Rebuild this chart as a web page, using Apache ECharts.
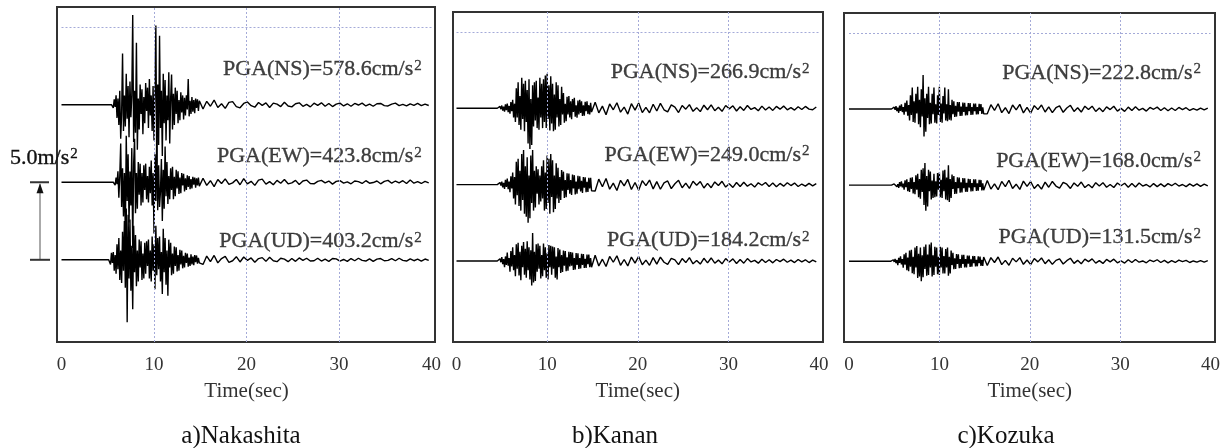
<!DOCTYPE html>
<html><head><meta charset="utf-8">
<script src="https://cdn.jsdelivr.net/npm/echarts@6/dist/echarts.min.js"></script>
<style>html,body{margin:0;padding:0;background:#fff}#c{width:1228px;height:448px}</style>
</head><body><div id="c"></div>
<script>
// ---------------- data ----------------
const stations = ['a)Nakashita', 'b)Kanan', 'c)Kozuka'];
const components = ['NS', 'EW', 'UD'];
const timeTicks = [0, 10, 20, 30, 40];
const scaleBar = 500;            // cm/s^2  (= 5.0 m/s^2), also spacing between traces
const scaleLabel = '5.0m/s';
const pgaNakashita = [578.6, 423.8, 403.2];
const pgaKanan = [266.9, 249.0, 184.2];
const pgaKozuka = [222.8, 168.0, 131.5];
const strongDt = 0.1, codaDt = 0.4;          // seconds between read samples
const onsetNakashita = [5.5, 5.7, 5.2];
const onsetKanan = [4.6, 4.6, 4.6];
const onsetKozuka = [4.8, 4.8, 4.7];

// accelerations (cm/s^2) read from the records
const nakashitaNS = [8,-20,35,-15,60,-85,40,-130,90,-220,
 -60,330,-170,60,-140,200,-90,120,-210,150,
 -80,60,579,-240,90,-180,400,-290,40,-160,
 130,-60,100,-190,50,-120,140,-40,110,-150,
 165,-70,60,-170,120,-230,80,510,-380,130,
 -260,445,-150,90,-330,200,-120,160,-230,60,
 -100,210,-250,40,195,-160,70,-130,110,-60,
 90,-120,30,-100,80,-50,60,-95,45,-70,
 60,-30,165,-75,25,-60,50,-45,30,-55,
 40,-20,35,-40,25];
const nakashitaNSCoda = [-28,22,-10,30,-18,6,-24,15,20,-12,
 -20,8,18,-6,-16,14,-4,12,-18,10,
 4,-12,16,-8,-14,6,12,-10,2,-14,
 10,-4,12,-10,8,-12,4,10,-8,6,
 -10,8,-2,10,-8,4,-10,6,8,-6,
 -8,4,10,-6,2,-8,6,-4,8,-6,
 4,-5];
const nakashitaEW = [6,-18,30,-12,70,-100,40,250,-160,90,
 -220,60,-330,300,-120,180,-260,70,-150,220,
 -424,120,280,-200,60,-170,130,-80,120,-150,
 60,-130,110,-50,120,-110,40,-130,100,-70,
 140,-150,60,-330,180,-120,300,-180,110,-160,
 -60,150,-250,80,-170,230,-90,130,-140,40,
 -110,90,-50,100,-110,35,-90,80,-40,70,
 -75,30,-70,60,-20,55,-60,25,-50,45,
 -30,40,-45,20,-40,35,-15,30,-35,25,
 -20,30,-25];
const nakashitaEWCoda = [26,-20,10,-28,18,-8,22,-14,-4,18,
 -16,24,-10,6,-20,14,20,-12,4,-16,
 12,-6,18,-10,-4,12,-14,8,14,-8,
 -10,6,12,-4,8,-12,6,10,-6,2,
 -10,8,4,-8,10,-6,-2,8,-10,6,
 12,-6,8,-4,10,-8,14,-6,4,-8,
 6,-4];
const nakashitaUD = [12,-30,45,-20,50,-70,30,-90,100,-60,
 140,-130,60,-150,180,-70,250,-180,330,-403,
 290,-120,260,-200,90,-318,220,-80,160,-170,
 60,-140,130,-50,120,-130,40,-120,110,-90,
 120,-40,130,-120,60,-140,150,-70,100,-190,
 220,-100,140,-60,150,-140,50,-220,200,-80,
 140,-160,60,-232,130,-50,110,-100,40,-90,
 85,-40,80,-75,30,-70,65,-30,60,-55,
 25,-50,45,-20,40,-45,15,-40,35,-30,
 20,-35,30,-15,28,-25,12,-20];
const nakashitaUDCoda = [-30,24,-12,28,-20,8,22,-16,-6,20,
 -14,18,-4,12,-16,8,14,-10,16,-6,
 -12,10,4,-12,8,-10,12,-4,10,-8,
 -6,10,-8,4,-10,8,6,-8,2,-10,
 8,-6,10,-4,-8,6,-10,4,8,-6,
 -4,8,-6,10,-4,-8,6,-6,4,-8,
 5,-4];

const kananNS = [4,-8,12,-6,18,-15,10,-22,25,-12,
 30,-25,15,-35,40,-20,55,-60,30,-90,
 130,-60,170,-110,80,-140,200,-70,160,-150,
 180,-90,120,-230,190,-267,60,-240,150,-120,
 170,-80,180,-130,70,-140,200,-60,160,-130,
 190,-90,215,-130,226,-70,150,-145,210,-100,
 160,-150,90,-140,170,-60,150,-120,60,-110,
 140,-40,100,-95,30,-85,75,-40,80,-60,
 45,-72,60,-25,68,-55,20,-62,50,-40,
 55,-30,45,-50,20,-48,42,-20,45,-38,
 20,-40,36,-25];
const kananNSCoda = [40,-30,14,-42,28,-10,36,-26,8,-38,
 30,-12,34,-28,6,-30,26,-18,32,-10,
 -24,22,8,-28,18,-6,24,-20,4,-22,
 20,-10,22,-16,6,-20,18,-4,16,-18,
 10,-14,18,-8,4,-16,14,-12,8,-14,
 12,-6,14,-10,4,-12,10,-8,12,-6,
 -10,8];
const kananEW = [4,-8,14,-6,20,-18,12,-28,32,-15,
 40,-30,20,-50,55,-25,80,-90,50,-130,
 150,-70,170,-140,90,-170,200,-100,226,-190,
 120,-210,180,-249,60,-220,190,-120,226,-170,
 90,-150,120,-60,100,-130,60,-110,120,-90,
 160,-170,80,-160,190,-120,170,-190,200,-80,
 160,-180,60,-160,140,-90,110,-120,50,-100,
 95,-40,85,-88,30,-82,75,-35,72,-60,
 30,-68,66,-25,62,-64,20,-60,58,-30,
 55,-45,25,-54,50,-20,48,-50,18,-48,
 45,-25,44,-40];
const kananEWCoda = [-42,36,-14,40,-30,10,-38,28,-8,34,
 -32,14,-36,26,-6,30,-28,20,-30,12,
 24,-26,6,28,-20,10,-24,22,-4,20,
 -22,8,-20,18,-6,22,-16,6,-18,14,
 -12,16,-10,6,-16,12,-4,14,-12,10,
 -14,8,-10,12,-6,10,-12,4,-10,8,
 -8,6];
const kananUD = [6,-10,15,-8,25,-20,12,-40,30,-25,
 55,-30,20,-70,65,-35,90,-60,40,-100,
 110,-50,120,-95,60,-125,100,-40,125,-90,
 80,-110,130,-60,90,-120,70,-160,184,-140,
 60,-130,110,-70,115,-50,100,-115,40,-100,
 115,-60,90,-110,50,-120,105,-40,100,-90,
 95,-50,90,-110,30,-120,85,-40,75,-78,
 40,-72,68,-30,65,-66,25,-64,60,-35,
 58,-30,56,-58,20,-56,52,-25,50,-52,
 20,-48,47,-25,45,-46,15,-45,42,-20,
 42,-40,20,-41];
const kananUDCoda = [38,-32,12,-36,30,-8,34,-28,10,-32,
 26,-14,30,-24,6,-28,22,-20,26,-8,
 -22,18,8,-24,16,-10,22,-18,4,-20,
 18,-12,20,-14,6,-18,16,-6,14,-16,
 10,-14,16,-6,4,-14,12,-10,8,-12,
 10,-4,12,-8,6,-10,10,-6,8,-10,
 6,-6];

const kozukaNS = [4,-8,12,-5,18,-14,8,-25,22,-12,
 30,-20,12,-38,40,-18,55,-45,25,-75,
 90,-40,140,-85,50,-90,100,-30,145,-100,
 60,-120,130,-50,223,-180,70,-150,100,-60,
 145,-100,40,-95,100,-35,140,-90,30,-95,
 90,-40,145,-85,35,-90,85,-30,140,-75,
 30,-80,130,-70,25,-75,60,-35,50,-52,
 20,-50,46,-18,45,-46,15,-45,42,-20,
 40,-42,14,-41,38,-15,38,-39,12,-38,
 36,-15,35,-36,12,-35,33,-12,32,-33,
 10,-31];
const kozukaNSCoda = [-32,28,-10,34,-24,8,-30,26,-6,30,
 -26,10,-28,22,-4,26,-20,14,-24,8,
 20,-22,6,24,-16,8,-20,18,-4,18,
 -16,6,-18,14,-4,18,-14,4,-16,12,
 -10,14,-8,4,-14,10,-2,12,-10,8,
 -12,6,-10,10,-4,8,-10,2,-8,6,
 -6,5];
const kozukaEW = [4,-6,8,-3,12,-10,6,-18,20,-8,
 24,-15,10,-30,32,-14,38,-40,20,-45,
 48,-25,52,-55,20,-60,65,-30,75,-80,
 40,-90,100,-45,110,-130,145,-168,60,-140,
 100,-40,90,-95,30,-85,75,-80,25,-75,
 80,-30,85,-80,35,-85,95,-40,100,-95,
 50,-100,130,-110,40,-85,70,-25,60,-58,
 20,-56,52,-20,50,-50,18,-48,46,-20,
 45,-44,15,-44,42,-16,40,-41,14,-40,
 38,-14,38,-38,12,-37,35,-12,34,-35,
 12,-33];
const kozukaEWCoda = [30,-26,8,-30,24,-10,32,-22,6,-28,
 26,-8,24,-22,4,-26,20,-14,24,-6,
 -20,18,6,-22,14,-8,20,-16,4,-18,
 16,-6,16,-14,4,-16,14,-4,12,-14,
 10,-12,14,-6,4,-12,10,-10,8,-10,
 10,-4,12,-6,4,-10,8,-6,8,-8,
 6,-5];
const kozukaUD = [4,-6,10,-4,16,-12,8,-25,22,-10,
 32,-20,14,-42,45,-22,55,-58,25,-65,
 70,-35,75,-78,30,-85,90,-40,100,-110,
 50,-100,90,-131,40,-105,95,-50,110,-95,
 45,-90,110,-40,123,-100,40,-90,95,-35,
 90,-85,30,-90,95,-40,90,-80,35,-80,
 80,-40,90,-95,30,-80,70,-25,55,-52,
 20,-50,48,-18,46,-46,15,-44,43,-18,
 42,-41,14,-40,38,-15,38,-37,12,-36,
 35,-12,34,-34,10,-33,32,-12,31,-31,
 10,-30,28];
const kozukaUDCoda = [-28,24,-8,28,-22,6,-26,20,-4,24,
 -20,8,-22,18,-4,22,-16,10,-20,6,
 16,-18,4,20,-14,6,-16,14,-2,16,
 -12,4,-14,12,-4,14,-10,2,-12,10,
 -8,12,-6,2,-10,8,-2,10,-8,6,
 -10,4,-8,8,-2,6,-8,2,-6,4,
 -5,4];

// ---------------- layout ----------------
const FONT = 'Liberation Serif';
const INK = '#111';
const panels = [
  {pga: pgaNakashita, onset: onsetNakashita, strong: [nakashitaNS, nakashitaEW, nakashitaUD], coda: [nakashitaNSCoda, nakashitaEWCoda, nakashitaUDCoda],
   frame: {left: 57, top: 7, width: 378, height: 335}, plot: {left: 61.5, width: 370}, titleX: 236, lift: [226, 165, 118]},
  {pga: pgaKanan, onset: onsetKanan, strong: [kananNS, kananEW, kananUD], coda: [kananNSCoda, kananEWCoda, kananUDCoda],
   frame: {left: 453, top: 12, width: 370, height: 330}, plot: {left: 456.5, width: 362.5}, titleX: 610, lift: [236, 194, 137]},
  {pga: pgaKozuka, onset: onsetKozuka, strong: [kozukaNS, kozukaEW, kozukaUD], coda: [kozukaNSCoda, kozukaEWCoda, kozukaUDCoda],
   frame: {left: 844, top: 13, width: 371, height: 329}, plot: {left: 849, width: 361.5}, titleX: 1001, lift: [236, 160, 158]}
];
const yMin = -530, yMax = 1630;

function buildTrace(off, t0, strong, coda) {
  // quiet baseline before the onset, then the read samples
  const pts = [[0, off], [+(t0 - strongDt).toFixed(2), off]];
  strong.forEach((v, i) => pts.push([+(t0 + i * strongDt).toFixed(2), off + v]));
  const tEnd = t0 + (strong.length - 1) * strongDt;
  coda.forEach((v, i) => pts.push([+(tEnd + (i + 1) * codaDt).toFixed(2), off + v]));
  return pts;
}

const richText = {
  t: {fontFamily: FONT, fontSize: 22, color: INK, fontWeight: 'normal', textBorderColor: INK, textBorderWidth: 0.35},
  s: {fontFamily: FONT, fontSize: 15, color: INK, fontWeight: 'normal', verticalAlign: 'top', padding: [0, 0, 0, 1],
      textBorderColor: INK, textBorderWidth: 0.3}
};

const grid = [], xAxis = [], yAxis = [], series = [], title = [];
panels.forEach((p, k) => {
  const fi = 2 * k, di = 2 * k + 1;
  grid.push({left: p.frame.left, top: p.frame.top, width: p.frame.width, height: p.frame.height,
             show: true, borderColor: '#333', borderWidth: 2, backgroundColor: 'transparent'});
  grid.push({left: p.plot.left, top: p.frame.top, width: p.plot.width, height: p.frame.height, show: false});
  xAxis.push({gridIndex: fi, type: 'value', min: 0, max: 1, show: false});
  yAxis.push({gridIndex: fi, type: 'value', min: 0, max: 1, show: false});
  xAxis.push({gridIndex: di, type: 'value', min: timeTicks[0], max: timeTicks[timeTicks.length - 1],
              interval: timeTicks[1] - timeTicks[0],
              axisLine: {show: false}, axisTick: {show: false}, splitLine: {show: false},
              axisLabel: {fontFamily: FONT, fontSize: 19, color: '#333', margin: 14},
              name: 'Time(sec)', nameLocation: 'middle', nameGap: 39,
              nameTextStyle: {fontFamily: FONT, fontSize: 21, color: '#333'}});
  yAxis.push({gridIndex: di, type: 'value', min: yMin, max: yMax, show: false});
  // dotted grid lines
  series.push({type: 'line', xAxisIndex: di, yAxisIndex: di, data: [], silent: true, z: 1,
    markLine: {silent: true, symbol: ['none', 'none'], label: {show: false}, animation: false,
      lineStyle: {color: '#a4aad8', type: [2, 2], width: 1},
      data: timeTicks.slice(1, -1).map(t => ({xAxis: t})).concat([{yAxis: 3 * scaleBar}])}});
  components.forEach((c, j) => {
    const off = (2 - j) * scaleBar;
    series.push({type: 'line', name: c, xAxisIndex: di, yAxisIndex: di, showSymbol: false, symbol: 'none',
      z: 3, animation: false, lineStyle: {color: '#000', width: 1.4},
      data: buildTrace(off, p.onset[j], p.strong[j], p.coda[j])});
  });
  series.push({type: 'scatter', xAxisIndex: di, yAxisIndex: di, symbolSize: 1, z: 4, silent: true,
    itemStyle: {color: 'rgba(0,0,0,0)'},
    data: components.map((c, j) => [39, (2 - j) * scaleBar + p.lift[j]]),
    label: {show: true, position: 'left', distance: 0,
      formatter: prm => '{t|PGA(' + components[prm.dataIndex] + ')=' + p.pga[prm.dataIndex].toFixed(1) + 'cm/s}{s|2}',
      rich: richText}});
  title.push({text: stations[k], left: p.titleX, top: 419, textAlign: 'center',
    textStyle: {fontFamily: FONT, fontSize: 25, fontWeight: 'normal', color: '#111'}});
});
title.push({text: '{t|' + scaleLabel + '}{s|2}', left: 5, top: 142,
  textStyle: {fontWeight: 'normal', rich: richText}});

const chart = echarts.init(document.getElementById('c'), null, {renderer: 'canvas'});
chart.setOption({animation: false, backgroundColor: '#fff', grid, xAxis, yAxis, series, title});

// scale bar (5.0 m/s^2) drawn on panel a's amplitude scale
const yTop = chart.convertToPixel({xAxisIndex: 1, yAxisIndex: 1}, [0, scaleBar])[1];
const yBot = chart.convertToPixel({xAxisIndex: 1, yAxisIndex: 1}, [0, 0])[1];
chart.setOption({graphic: [
  {type: 'line', shape: {x1: 40, y1: yTop + 2, x2: 40, y2: yBot}, style: {stroke: '#aaa', lineWidth: 2}},
  {type: 'line', shape: {x1: 30, y1: yTop, x2: 49, y2: yTop}, style: {stroke: '#333', lineWidth: 2}},
  {type: 'line', shape: {x1: 30, y1: yBot, x2: 50, y2: yBot}, style: {stroke: '#333', lineWidth: 2}},
  {type: 'polygon', shape: {points: [[40, yTop + 1], [36.5, yTop + 11], [43.5, yTop + 11]]}, style: {fill: '#111'}}
]});
</script></body></html>
